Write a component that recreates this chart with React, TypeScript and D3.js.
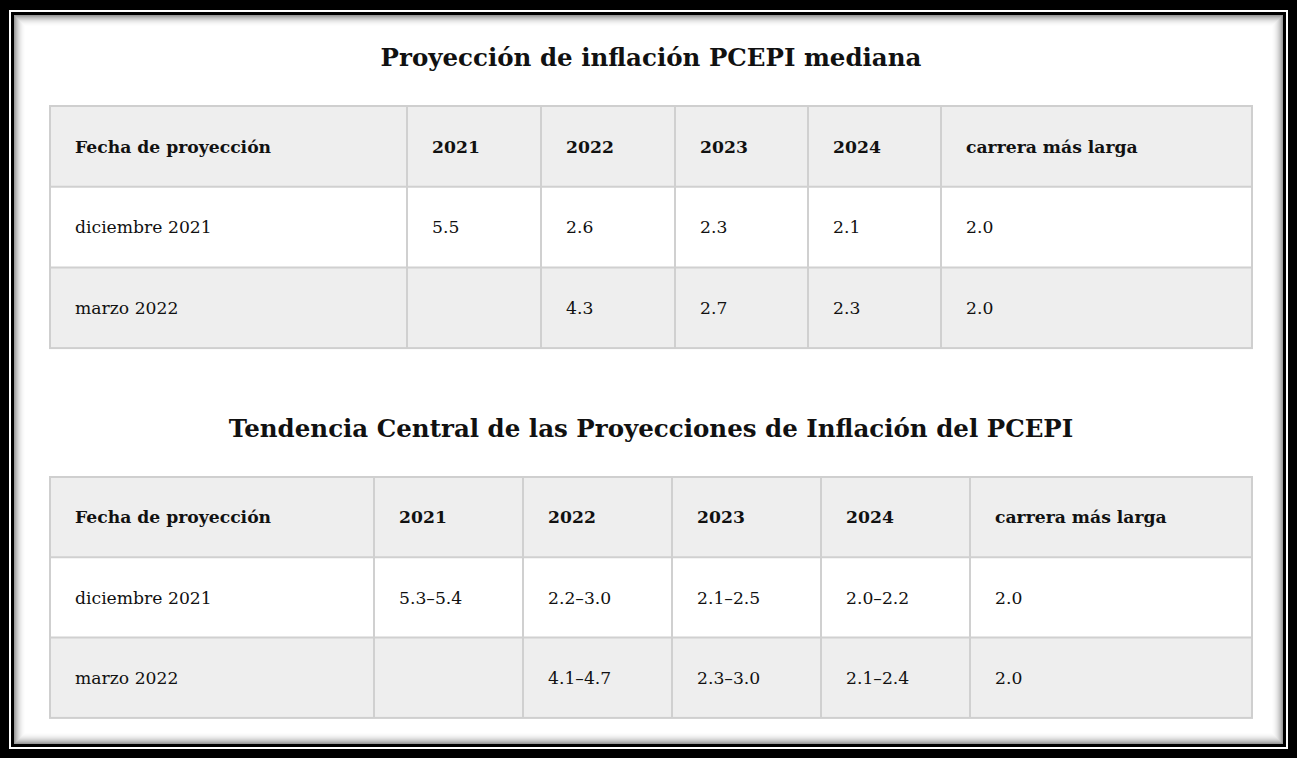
import React from 'react'
import * as d3 from 'd3'

// table content
const headerLabel = 'Fecha de proyección'
const yearLabels = ['2021', '2022', '2023', '2024', 'carrera más larga']
const projectionDates = ['diciembre 2021', 'marzo 2022']

// median PCEPI projection
const medianDec2021 = [5.5, 2.6, 2.3, 2.1, 2.0]
const medianMar2022 = [null, 4.3, 2.7, 2.3, 2.0]

// central tendency (low / high)
const centralLowDec2021 = [5.3, 2.2, 2.1, 2.0, 2.0]
const centralHighDec2021 = [5.4, 3.0, 2.5, 2.2, null]
const centralLowMar2022 = [null, 4.1, 2.3, 2.1, 2.0]
const centralHighMar2022 = [null, 4.7, 3.0, 2.4, null]

const W = 1297
const H = 758
const FONT = '"DejaVu Serif", "Liberation Serif", serif'
const fmt = d3.format('.1f')

const fmtRange = (lo: number | null, hi: number | null) =>
  lo == null ? '' : hi == null ? fmt(lo) : fmt(lo) + '–' + fmt(hi)

type TableProps = {
  title: string
  titleY: number
  top: number
  rowH: number
  colWidths: number[]
  rows: string[][]
}

const Table = ({ title, titleY, top, rowH, colWidths, rows }: TableProps) => {
  const left = 50
  const edges = [left, ...Array.from(d3.cumsum(colWidths), (c) => left + c)]
  const right = edges[edges.length - 1]
  const all = [[headerLabel, ...yearLabels], ...rows]
  const y = d3.scaleBand<number>()
    .domain(d3.range(all.length))
    .range([top, top + rowH * all.length])
    .paddingInner(0)
  const bottom = top + rowH * all.length

  return (
    <g>
      <text x={651} y={titleY} textAnchor="middle" fontFamily={FONT}
        fontWeight="bold" fontSize={24.5} fill="#111">{title}</text>
      {all.map((r, i) => (
        <rect key={'bg' + i} x={left} y={y(i)} width={right - left} height={y.bandwidth()}
          fill={i % 2 === 0 ? '#eeeeee' : '#ffffff'} />
      ))}
      {/* grid */}
      {all.map((r, i) => i > 0 ? (
        <line key={'h' + i} x1={left} x2={right} y1={y(i)} y2={y(i)} stroke="#d0d0d0" strokeWidth={2} />
      ) : null)}
      {edges.slice(1, -1).map((e, i) => (
        <line key={'v' + i} x1={e} x2={e} y1={top} y2={bottom} stroke="#d0d0d0" strokeWidth={2} />
      ))}
      <rect x={left} y={top} width={right - left} height={bottom - top}
        fill="none" stroke="#cfcfcf" strokeWidth={2} />
      {all.map((r, i) => r.map((cell, j) => (
        <text key={'t' + i + '-' + j} x={edges[j] + 25} y={(y(i) as number) + y.bandwidth() / 2}
          dy="0.36em" fontFamily={FONT} fontSize={17.2}
          fontWeight={i === 0 ? 'bold' : 'normal'} fill="#111">{cell}</text>
      )))}
    </g>
  )
}

const App = () => {
  const medianRows = [
    [projectionDates[0], ...medianDec2021.map((v) => (v == null ? '' : fmt(v)))],
    [projectionDates[1], ...medianMar2022.map((v) => (v == null ? '' : fmt(v)))],
  ]
  const centralRows = [
    [projectionDates[0], ...centralLowDec2021.map((v, i) => fmtRange(v, centralHighDec2021[i]))],
    [projectionDates[1], ...centralLowMar2022.map((v, i) => fmtRange(v, centralHighMar2022[i]))],
  ]
  const shadow = d3.range(12)

  return (
    <svg width={W} height={H} style={{ position: 'absolute', left: 0, top: 0, display: 'block' }}>
      {/* frame */}
      <rect x={0} y={0} width={W} height={H} fill="#000" />
      <rect x={9} y={10} width={W - 18} height={H - 19} fill="#fff" />
      <rect x={11} y={12} width={W - 22} height={H - 23} fill="#000" />
      <rect x={14} y={15} width={W - 28} height={H - 29} fill="#fff" />
      {shadow.map((i) => (
        <rect key={'s' + i} x={14 + i + 0.5} y={15 + i + 0.5} width={W - 29 - 2 * i} height={H - 30 - 2 * i}
          fill="none" stroke="#000" strokeOpacity={0.4 * Math.pow(1 - i / 12, 2.2)} />
      ))}

      <Table title="Proyección de inflación PCEPI mediana" titleY={66} top={106} rowH={80.7}
        colWidths={[357, 134, 134, 133, 133, 311]} rows={medianRows} />
      <Table title="Tendencia Central de las Proyecciones de Inflación del PCEPI" titleY={437} top={477} rowH={80.3}
        colWidths={[324, 149, 149, 149, 149, 282]} rows={centralRows} />
    </svg>
  )
}

export default App
